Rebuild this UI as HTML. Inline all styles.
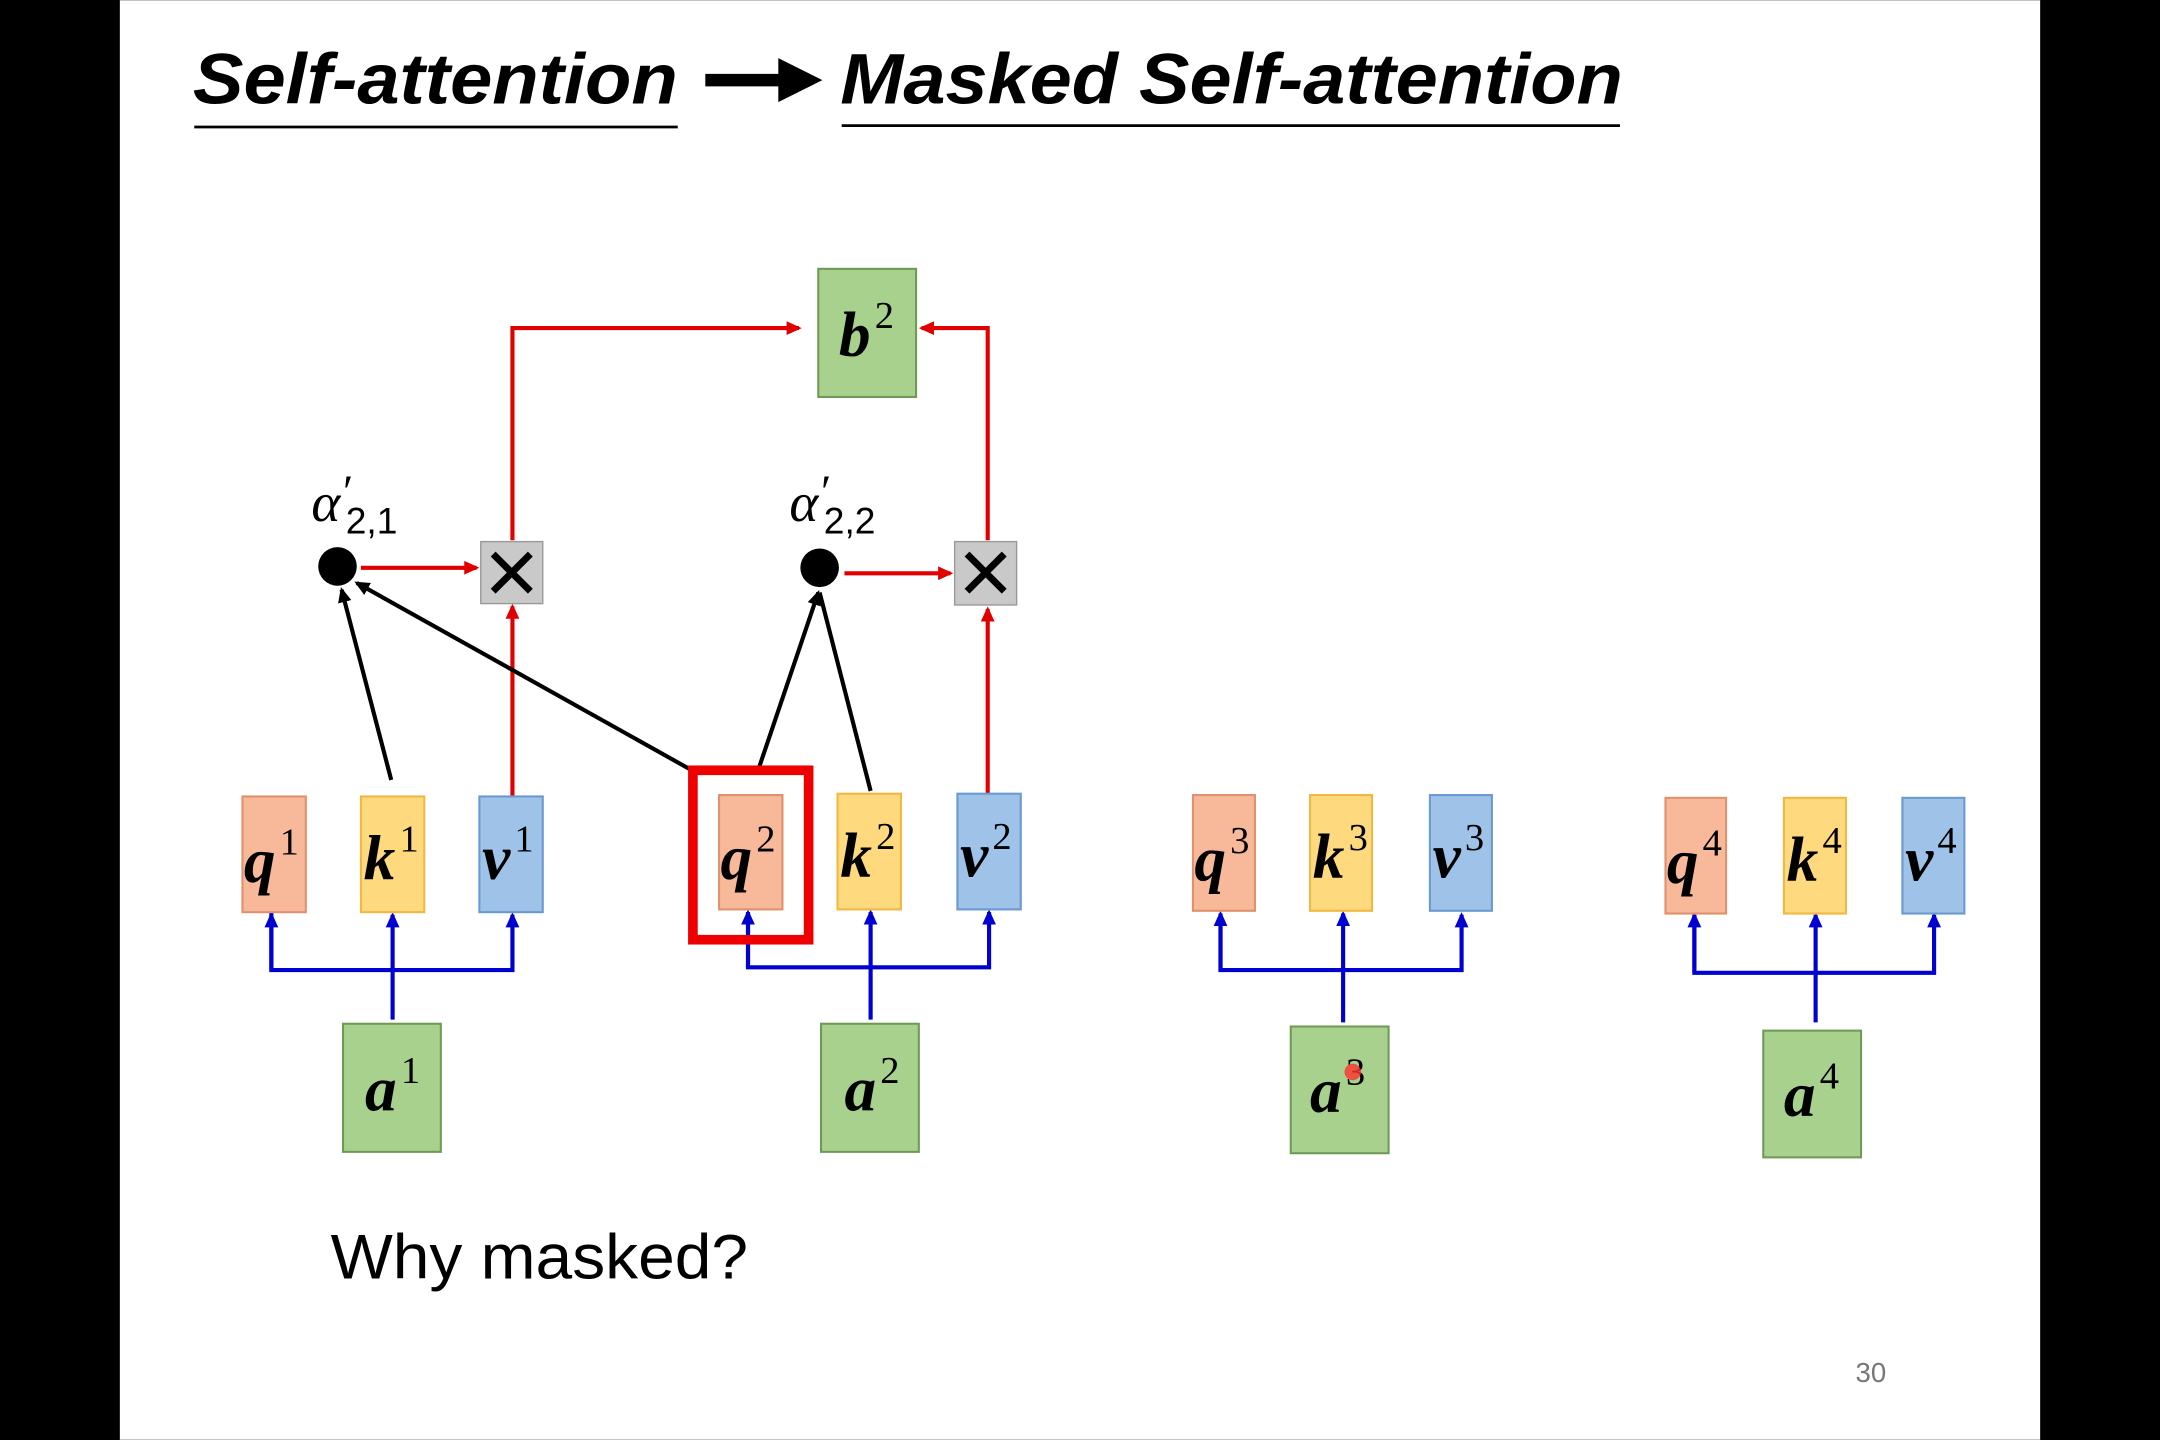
<!DOCTYPE html>
<html><head><meta charset="utf-8"><style>
html,body{margin:0;padding:0;background:#000;}
svg{display:block;}
.bx{font-family:"Liberation Serif",serif;font-weight:bold;font-style:italic;font-size:46px;fill:#000;}
.sup{font-family:"Liberation Serif",serif;font-weight:normal;font-style:normal;font-size:28px;}
</style></head><body>
<svg width="2160" height="1440" viewBox="0 0 1568 1045" xmlns="http://www.w3.org/2000/svg">
<defs>
<marker id="ar" markerWidth="12" markerHeight="12" refX="9" refY="6" orient="auto" markerUnits="userSpaceOnUse"><path d="M0,1 L11,6 L0,11 Z" fill="#e00000"/></marker>
<marker id="ab" markerWidth="12" markerHeight="12" refX="9" refY="6" orient="auto" markerUnits="userSpaceOnUse"><path d="M0,1 L11,6 L0,11 Z" fill="#0000d0"/></marker>
<marker id="ak" markerWidth="12" markerHeight="12" refX="9" refY="6" orient="auto" markerUnits="userSpaceOnUse"><path d="M0,1 L11,6 L0,11 Z" fill="#000"/></marker>
</defs>
<rect x="0" y="0" width="1568" height="1045" fill="#000"/>
<rect x="87" y="0" width="1394" height="1045" fill="#fff"/>
<text x="140" y="75" font-family="Liberation Sans,sans-serif" font-weight="bold" font-style="italic" font-size="52" textLength="352" lengthAdjust="spacingAndGlyphs">Self-attention</text>
<line x1="141" y1="92" x2="492" y2="92" stroke="#000" stroke-width="2"/>
<line x1="512" y1="58" x2="570" y2="58" stroke="#000" stroke-width="9"/>
<path d="M565,42 L597,58 L565,74 Z" fill="#000"/>
<text x="610" y="75" font-family="Liberation Sans,sans-serif" font-weight="bold" font-style="italic" font-size="52" textLength="568" lengthAdjust="spacingAndGlyphs">Masked Self-attention</text>
<line x1="611" y1="91" x2="1176" y2="91" stroke="#000" stroke-width="2"/>

<g stroke="#e00000" stroke-width="3" fill="none">
<line x1="372" y1="578" x2="372" y2="440" marker-end="url(#ar)"/>
<line x1="262" y1="412" x2="346" y2="412" marker-end="url(#ar)"/>
<polyline points="372,392 372,238 580,238" marker-end="url(#ar)"/>
<line x1="717" y1="576" x2="717" y2="442" marker-end="url(#ar)"/>
<line x1="613" y1="416" x2="690" y2="416" marker-end="url(#ar)"/>
<polyline points="717,392 717,238 669,238" marker-end="url(#ar)"/>
</g>
<g stroke="#000" stroke-width="3" fill="none">
<line x1="284" y1="566" x2="248" y2="428" marker-end="url(#ak)"/>
<line x1="504" y1="560" x2="259" y2="423" marker-end="url(#ak)"/>
<line x1="550" y1="560" x2="594" y2="430" marker-end="url(#ak)"/>
<line x1="632" y1="574" x2="595" y2="430"/>
</g>
<circle cx="245" cy="411" r="14" fill="#000"/>
<circle cx="595" cy="412" r="14" fill="#000"/>
<text x="226" y="378" font-family="Liberation Serif,serif" font-style="italic" font-size="40">α</text>
<text x="249" y="368" font-family="Liberation Serif,serif" font-size="34">′</text>
<text x="251" y="387" font-family="Liberation Sans,sans-serif" font-size="27">2,1</text>
<text x="573" y="378" font-family="Liberation Serif,serif" font-style="italic" font-size="40">α</text>
<text x="596" y="368" font-family="Liberation Serif,serif" font-size="34">′</text>
<text x="598" y="387" font-family="Liberation Sans,sans-serif" font-size="27">2,2</text>

<rect x="349" y="393" width="45" height="45" fill="#c9c9c9" stroke="#999"/>
<path d="M358,402 L385,429 M385,402 L358,429" stroke="#000" stroke-width="5"/>
<rect x="693" y="393" width="45" height="46" fill="#c9c9c9" stroke="#999"/>
<path d="M702,402 L729,429 M729,402 L702,429" stroke="#000" stroke-width="5"/>

<g stroke="#0000d0" stroke-width="3" fill="none">
<polyline points="197,662 197,704 372,704 372,664" marker-end="url(#ab)"/>
<line x1="197" y1="704" x2="197" y2="664" marker-end="url(#ab)"/>
<line x1="285" y1="740" x2="285" y2="664" marker-end="url(#ab)"/>
<polyline points="543,662 543,702 718,702 718,662" marker-end="url(#ab)"/>
<line x1="543" y1="702" x2="543" y2="662" marker-end="url(#ab)"/>
<line x1="632" y1="740" x2="632" y2="662" marker-end="url(#ab)"/>
<polyline points="886,664 886,704 1061,704 1061,664" marker-end="url(#ab)"/>
<line x1="886" y1="704" x2="886" y2="663" marker-end="url(#ab)"/>
<line x1="975" y1="742" x2="975" y2="663" marker-end="url(#ab)"/>
<polyline points="1230,664 1230,706 1404,706 1404,664" marker-end="url(#ab)"/>
<line x1="1230" y1="706" x2="1230" y2="664" marker-end="url(#ab)"/>
<line x1="1318" y1="742" x2="1318" y2="664" marker-end="url(#ab)"/>
</g>

<g stroke-width="1.5">
<rect x="176" y="578" width="46" height="84" fill="#f8b99a" stroke="#e0906a"/>
<rect x="262" y="578" width="46" height="84" fill="#ffd97e" stroke="#f0b840"/>
<rect x="348" y="578" width="46" height="84" fill="#9fc3e8" stroke="#6a98d0"/>
<rect x="522" y="577" width="46" height="83" fill="#f8b99a" stroke="#e0906a"/>
<rect x="608" y="576" width="46" height="84" fill="#ffd97e" stroke="#f0b840"/>
<rect x="695" y="576" width="46" height="84" fill="#9fc3e8" stroke="#6a98d0"/>
<rect x="866" y="577" width="45" height="84" fill="#f8b99a" stroke="#e0906a"/>
<rect x="951" y="577" width="45" height="84" fill="#ffd97e" stroke="#f0b840"/>
<rect x="1038" y="577" width="45" height="84" fill="#9fc3e8" stroke="#6a98d0"/>
<rect x="1209" y="579" width="44" height="84" fill="#f8b99a" stroke="#e0906a"/>
<rect x="1295" y="579" width="45" height="84" fill="#ffd97e" stroke="#f0b840"/>
<rect x="1381" y="579" width="45" height="84" fill="#9fc3e8" stroke="#6a98d0"/>
<rect x="249" y="743" width="71" height="93" fill="#a9d18e" stroke="#6f9a55"/>
<rect x="596" y="743" width="71" height="93" fill="#a9d18e" stroke="#6f9a55"/>
<rect x="937" y="745" width="71" height="92" fill="#a9d18e" stroke="#6f9a55"/>
<rect x="1280" y="748" width="71" height="92" fill="#a9d18e" stroke="#6f9a55"/>
<rect x="594" y="195" width="71" height="93" fill="#a9d18e" stroke="#6f9a55"/>
</g>
<rect x="503" y="559" width="84" height="123" fill="none" stroke="#ee0000" stroke-width="7"/>

<g class="bx">
<text x="177" y="640">q<tspan class="sup" dx="3" dy="-20">1</tspan></text>
<text x="264" y="638">k<tspan class="sup" dx="3" dy="-20">1</tspan></text>
<text x="350" y="638">v<tspan class="sup" dx="3" dy="-20">1</tspan></text>
<text x="523" y="638">q<tspan class="sup" dx="3" dy="-20">2</tspan></text>
<text x="610" y="636">k<tspan class="sup" dx="3" dy="-20">2</tspan></text>
<text x="697" y="636">v<tspan class="sup" dx="3" dy="-20">2</tspan></text>
<text x="867" y="639">q<tspan class="sup" dx="3" dy="-20">3</tspan></text>
<text x="953" y="637">k<tspan class="sup" dx="3" dy="-20">3</tspan></text>
<text x="1040" y="637">v<tspan class="sup" dx="3" dy="-20">3</tspan></text>
<text x="1210" y="641">q<tspan class="sup" dx="3" dy="-20">4</tspan></text>
<text x="1297" y="639">k<tspan class="sup" dx="3" dy="-20">4</tspan></text>
<text x="1383" y="639">v<tspan class="sup" dx="3" dy="-20">4</tspan></text>
<text x="265" y="806">a<tspan class="sup" dx="3" dy="-20">1</tspan></text>
<text x="613" y="806">a<tspan class="sup" dx="3" dy="-20">2</tspan></text>
<text x="951" y="807">a<tspan class="sup" dx="3" dy="-20">3</tspan></text>
<text x="1295" y="810">a<tspan class="sup" dx="3" dy="-20">4</tspan></text>
<text x="609" y="258">b<tspan class="sup" dx="3" dy="-20">2</tspan></text>
</g>
<circle cx="982" cy="778" r="6" fill="#ff3030" opacity="0.8"/>

<text x="240" y="928" font-family="Liberation Sans,sans-serif" font-size="46" textLength="303" lengthAdjust="spacingAndGlyphs">Why masked?</text>
<text x="1347" y="1003" font-family="Liberation Sans,sans-serif" font-size="20" fill="#777">30</text>
</svg>
</body></html>
